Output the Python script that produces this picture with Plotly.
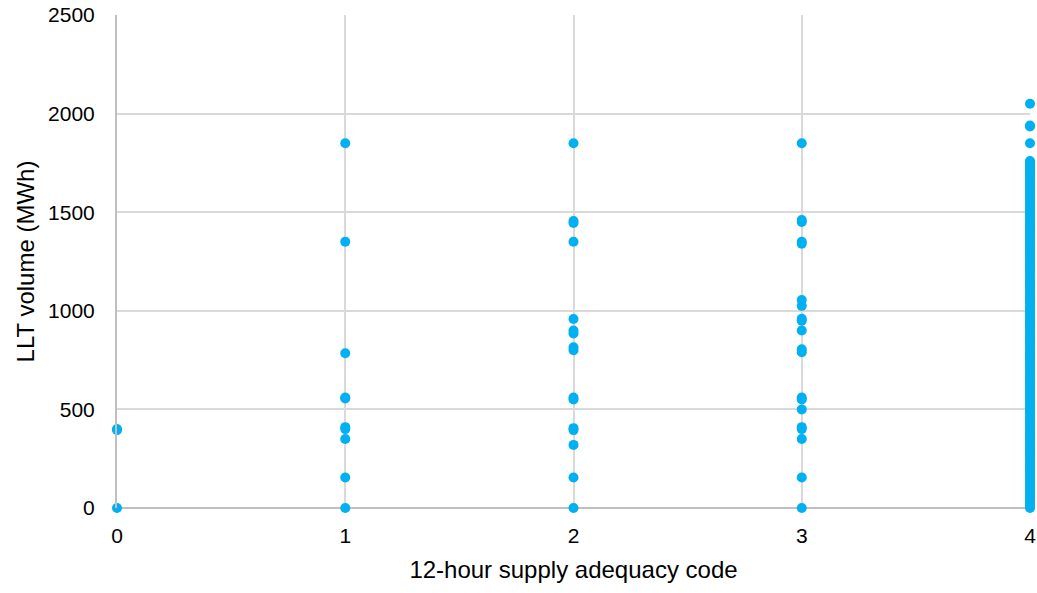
import plotly.graph_objects as go

# LLT volume (MWh) observed for each 12-hour supply adequacy code
code_0 = [400, 395, 0]
code_1 = [1850, 1350, 785, 560, 555, 410, 400, 350, 155, 0]
code_2 = [1850, 1455, 1445, 1350, 958, 900, 885, 815, 800, 560, 550, 405, 395, 320, 155, 0]
code_3 = [1850, 1460, 1450, 1350, 1340, 1055, 1025, 960, 950, 900, 805, 790,
          560, 550, 500, 410, 400, 350, 155, 0]
code_4 = [2050, 1940, 1935, 1850, 1760, 1750, 1742, 1731, 1720, 1712, 1700, 1688,
          1675, 1662, 1650, 1641, 1630, 1618, 1605, 1596, 1584, 1570, 1561, 1550,
          1538, 1525, 1512, 1500, 1490, 1478, 1465, 1452, 1440, 1431, 1420, 1408,
          1395, 1384, 1372, 1360, 1350, 1338, 1326, 1315, 1302, 1290, 1281, 1270,
          1258, 1245, 1233, 1220, 1212, 1200, 1188, 1175, 1162, 1150, 1141, 1130,
          1118, 1105, 1094, 1082, 1070, 1060, 1050, 1038, 1025, 1012, 1000, 990,
          978, 965, 952, 940, 931, 920, 908, 895, 884, 872, 860, 850, 838, 826,
          815, 802, 790, 781, 770, 758, 745, 733, 720, 712, 700, 688, 675, 662,
          650, 641, 630, 618, 605, 596, 584, 570, 561, 550, 538, 525, 512, 500,
          490, 478, 465, 452, 440, 431, 420, 408, 395, 384, 372, 360, 350, 338,
          326, 315, 302, 290, 281, 270, 258, 245, 233, 220, 212, 200, 188, 175,
          162, 150, 141, 130, 118, 105, 94, 82, 70, 60, 50, 38, 25, 12, 0]

codes = [0, 1, 2, 3, 4]
volumes = [code_0, code_1, code_2, code_3, code_4]

x_vals, y_vals = [], []
for c, vals in zip(codes, volumes):
    x_vals += [c] * len(vals)
    y_vals += vals

fig = go.Figure(
    go.Scatter(
        x=x_vals,
        y=y_vals,
        mode="markers",
        marker=dict(color="#00B0F0", size=10, line=dict(width=0)),
        cliponaxis=False,
        hoverinfo="x+y",
    )
)

font_family = "Liberation Sans, Arial, sans-serif"

fig.update_layout(
    width=1037,
    height=593,
    margin=dict(l=117, r=7, t=15, b=85),
    paper_bgcolor="white",
    plot_bgcolor="white",
    showlegend=False,
    font=dict(family=font_family, size=20, color="#000000"),
    xaxis=dict(
        range=[0, 4],
        tickvals=codes,
        ticktext=[str(c) for c in codes],
        automargin=False,
        showgrid=True,
        gridcolor="#D9D9D9",
        gridwidth=2,
        zeroline=False,
        showline=False,
        ticks="outside",
        ticklen=9,
        tickcolor="rgba(0,0,0,0)",
        tickfont=dict(size=21),
        title=dict(text="12-hour supply adequacy code", font=dict(size=24), standoff=14),
    ),
    yaxis=dict(
        range=[0, 2500],
        tickvals=[0, 500, 1000, 1500, 2000, 2500],
        automargin=False,
        showgrid=True,
        gridcolor="#D9D9D9",
        gridwidth=2,
        zeroline=True,
        zerolinecolor="#BFBFBF",
        zerolinewidth=2,
        showline=True,
        linecolor="#BFBFBF",
        linewidth=2,
        ticks="outside",
        ticklen=16,
        tickcolor="rgba(0,0,0,0)",
        tickfont=dict(size=21),
        title=dict(text="LLT volume (MWh)", font=dict(size=24), standoff=7),
    ),
)

fig.write_html("out.html")
